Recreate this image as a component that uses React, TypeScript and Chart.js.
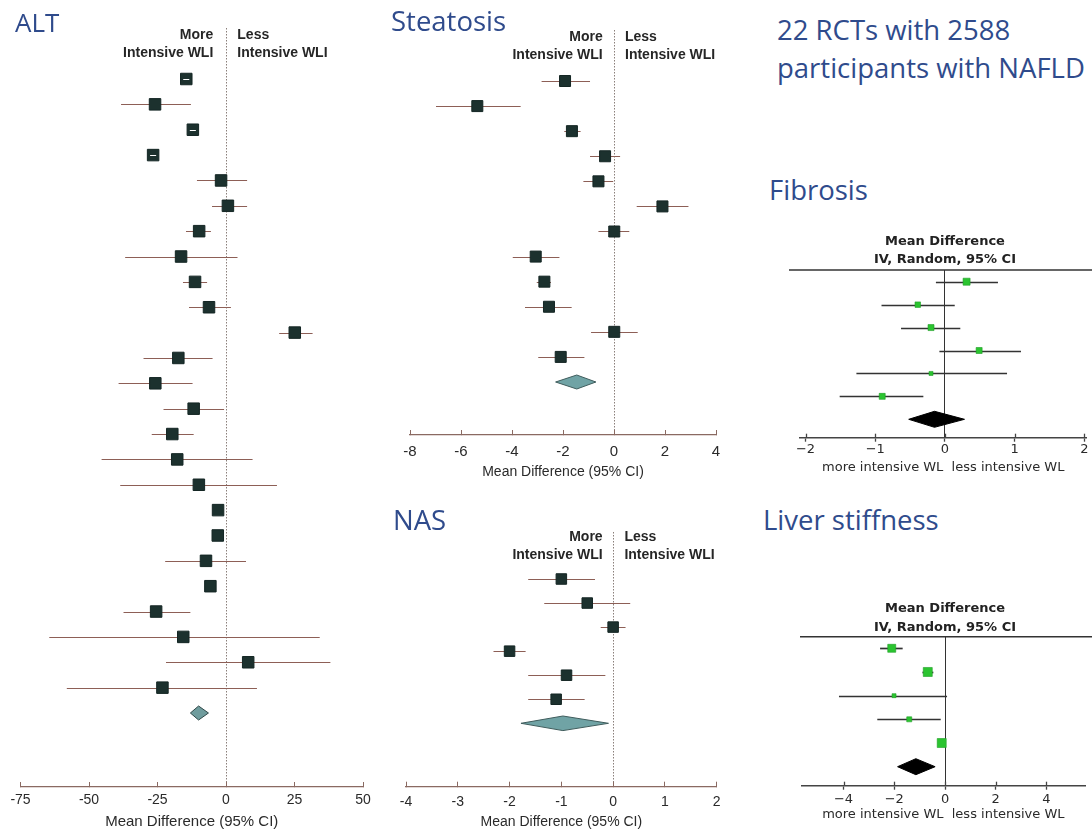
import React, { useEffect, useRef } from "react";
import { Chart, registerables } from "chart.js";

Chart.register(...registerables);

// ---------------- DATA ----------------
// ALT (mean difference, 95% CI)
const altMean = [-14.5, -25.9, -12.1, -26.6, -1.8, 0.7, -9.8, -16.4, -11.3, -6.2, 25.1, -17.4, -25.8, -11.8, -19.6, -17.8, -9.9, -2.9, -3.0, -7.3, -5.7, -25.5, -15.6, 8.1, -23.2];
const altLow = [-15.6, -38.3, -13.2, -27.7, -10.6, -5.1, -14.6, -36.8, -15.7, -13.5, 19.4, -30.1, -39.2, -22.8, -27.1, -45.4, -38.6, -3.2, -3.3, -22.2, -6.0, -37.4, -64.5, -21.9, -58.1];
const altHigh = [-13.4, -12.8, -11.0, -25.5, 7.7, 7.7, -5.5, 4.2, -6.9, 1.8, 31.6, -4.9, -12.2, -0.7, -11.8, 9.7, 18.6, -2.6, -2.7, 7.3, -5.4, -13.0, 34.2, 38.1, 11.3];
const altPooled = [-10.0, -13.0, -6.4];
const altTicks = [-75, -50, -25, 0, 25, 50];

// Steatosis
const steMean = [-1.92, -5.36, -1.65, -0.35, -0.61, 1.9, 0.01, -3.07, -2.73, -2.55, 0.01, -2.09];
const steLow = [-2.84, -6.98, -1.95, -0.94, -1.2, 0.89, -0.61, -3.97, -3.03, -3.49, -0.9, -2.97];
const steHigh = [-0.94, -3.66, -1.31, 0.24, -0.03, 2.92, 0.6, -2.14, -2.47, -1.66, 0.93, -1.16];
const stePooled = [-1.46, -2.29, -0.71];
const steTicks = [-8, -6, -4, -2, 0, 2, 4];

// NAS
const nasMean = [-1.0, -0.5, 0.0, -2.0, -0.9, -1.1];
const nasLow = [-1.64, -1.33, -0.24, -2.31, -1.64, -1.64];
const nasHigh = [-0.35, 0.33, 0.24, -1.69, -0.15, -0.55];
const nasPooled = [-0.97, -1.78, -0.09];
const nasTicks = [-4, -3, -2, -1, 0, 1, 2];

// Fibrosis
const fibMean = [0.31, -0.39, -0.2, 0.49, -0.2, -0.9];
const fibLow = [-0.13, -0.91, -0.63, -0.08, -1.27, -1.51];
const fibHigh = [0.76, 0.14, 0.22, 1.09, 0.89, -0.31];
const fibPooled = [-0.15, -0.52, 0.28];
const fibTicks = [-2, -1, 0, 1, 2];

// Liver stiffness
const lsMean = [-2.1, -0.68, -2.01, -1.41, -0.13];
const lsLow = [-2.56, -0.89, -4.18, -2.67, -0.2];
const lsHigh = [-1.67, -0.46, 0.08, -0.17, -0.06];
const lsPooled = [-1.15, -1.87, -0.39];
const lsTicks = [-4, -2, 0, 2, 4];

// ---------------- STYLE / LAYOUT ----------------
const JAMA_FONT = '"Liberation Sans", Arial, sans-serif';
const NARROW_FONT = '"Liberation Sans Narrow", "Liberation Sans", Arial, sans-serif';
const REVMAN_FONT = '"DejaVu Sans", Verdana, sans-serif';
const TITLE_FONT = '"Open Sans", sans-serif';
const TITLE_COLOR = "#2f4b8c";

type Panel = {
  key: string;
  mean: number[];
  low: number[];
  high: number[];
  pooled: number[];
  ticks: number[];
  xMin: number;
  xMax: number;
  left: number;
  top: number;
  width: number;
  height: number;
  pad: { left: number; right: number; top: number; bottom: number };
  axisH: number;
  firstRowPx: number;
  diamondPx: number;
  style: "jama" | "revman";
  markerSides: number[];
  diamondHalfH: number;
  diamondFill: string;
  diamondStroke: string;
  tickFontSize: number;
  tickPadding: number;
  titleText: string;
  titleFontSize: number;
  titlePadBottom: number;
  labelY?: [number, number];
  labelOffL?: number;
  labelOffR?: number;
  headerY?: [number, number];
  headerLineExt?: number;
};

const fill = (n: number, v: number) => Array.from({ length: n }, () => v);

const panels: Panel[] = [
  {
    key: "alt",
    mean: altMean, low: altLow, high: altHigh, pooled: altPooled, ticks: altTicks,
    xMin: -75, xMax: 50,
    left: 0, top: 0, width: 383, height: 832,
    pad: { left: 20.5, right: 20, top: 28, bottom: 0 },
    axisH: 45,
    firstRowPx: 79, diamondPx: 713,
    style: "jama",
    markerSides: fill(25, 11.5),
    diamondHalfH: 7, diamondFill: "#6f9c9d", diamondStroke: "#2f4848",
    tickFontSize: 14, tickPadding: 10,
    titleText: "Mean Difference (95% CI)", titleFontSize: 15, titlePadBottom: 1.3,
    labelY: [35, 53.3], labelOffL: 12.7, labelOffR: 11.3,
  },
  {
    key: "ste",
    mean: steMean, low: steLow, high: steHigh, pooled: stePooled, ticks: steTicks,
    xMin: -8, xMax: 4,
    left: 380, top: 0, width: 360, height: 482,
    pad: { left: 30, right: 24, top: 30, bottom: 0 },
    axisH: 47,
    firstRowPx: 81, diamondPx: 382,
    style: "jama",
    markerSides: fill(12, 11),
    diamondHalfH: 7, diamondFill: "#70a3a5", diamondStroke: "#3f5c5c",
    tickFontSize: 15, tickPadding: 13,
    titleText: "Mean Difference (95% CI)", titleFontSize: 14, titlePadBottom: 1.9,
    labelY: [36.7, 55], labelOffL: 11.3, labelOffR: 11,
  },
  {
    key: "nas",
    mean: nasMean, low: nasLow, high: nasHigh, pooled: nasPooled, ticks: nasTicks,
    xMin: -4, xMax: 2,
    left: 380, top: 500, width: 360, height: 332,
    pad: { left: 26, right: 23.3, top: 32, bottom: 0 },
    axisH: 45.3,
    firstRowPx: 579, diamondPx: 723.3,
    style: "jama",
    markerSides: fill(6, 10.5),
    diamondHalfH: 7.3, diamondFill: "#70a3a5", diamondStroke: "#3f5c5c",
    tickFontSize: 14, tickPadding: 11.6,
    titleText: "Mean Difference (95% CI)", titleFontSize: 14, titlePadBottom: 1.9,
    labelY: [536.7, 555], labelOffL: 10.5, labelOffR: 11.3,
  },
  {
    key: "fib",
    mean: fibMean, low: fibLow, high: fibHigh, pooled: fibPooled, ticks: fibTicks,
    xMin: -2.079, xMax: 2.029,
    left: 789, top: 225, width: 303, height: 253,
    pad: { left: 11, right: 5, top: 45, bottom: 0 },
    axisH: 40.3,
    firstRowPx: 281.7, diamondPx: 419.3,
    style: "revman",
    markerSides: [7, 5.5, 6, 6, 4, 6],
    diamondHalfH: 8, diamondFill: "#000000", diamondStroke: "#000000",
    tickFontSize: 13, tickPadding: 0.5,
    titleText: "more intensive WL  less intensive WL", titleFontSize: 13, titlePadBottom: 2.2,
    headerY: [241.7, 260], headerLineExt: 11,
  },
  {
    key: "ls",
    mean: lsMean, low: lsLow, high: lsHigh, pooled: lsPooled, ticks: lsTicks,
    xMin: -5.65, xMax: 5.52,
    left: 790, top: 590, width: 302, height: 236,
    pad: { left: 11.7, right: 5, top: 46.7, bottom: 0 },
    axisH: 40.3,
    firstRowPx: 648.3, diamondPx: 766.7,
    style: "revman",
    markerSides: [8, 9, 4, 5, 9],
    diamondHalfH: 8, diamondFill: "#000000", diamondStroke: "#000000",
    tickFontSize: 13, tickPadding: 1.8,
    titleText: "more intensive WL  less intensive WL", titleFontSize: 13, titlePadBottom: 3.2,
    headerY: [608.3, 627.3], headerLineExt: 1.7,
  },
];

function ForestPanel({ p }: { p: Panel }) {
  const ref = useRef<HTMLCanvasElement>(null);

  useEffect(() => {
    const canvas = ref.current;
    if (!canvas) return;
    const n = p.mean.length;
    const jama = p.style === "jama";
    const chartTop = p.top + p.pad.top;
    const chartBottom = p.top + p.height - p.pad.bottom - p.axisH;
    const k = (p.diamondPx - p.firstRowPx) / n;
    const yMin = 1 - (p.firstRowPx - chartTop) / k;
    const yMax = yMin + (chartBottom - chartTop) / k;

    const axisColor = jama ? "#8a6a62" : "#444444";
    const ciColor = jama ? "#8d5f56" : "#333333";
    const ciWidth = jama ? 1 : 1.7;
    const zeroColor = jama ? "#8a7f7a" : "#333333";

    const forestPlugin = {
      id: "forest_" + p.key,
      beforeDatasetsDraw(chart: any) {
        const { ctx } = chart;
        const xs = chart.scales.x;
        const ys = chart.scales.y;
        ctx.save();
        ctx.strokeStyle = ciColor;
        ctx.lineWidth = ciWidth;
        for (let i = 0; i < n; i++) {
          const y = Math.round(ys.getPixelForValue(i + 1)) + 0.5;
          const x1 = xs.getPixelForValue(p.low[i]);
          const x2 = xs.getPixelForValue(p.high[i]);
          ctx.beginPath();
          ctx.moveTo(x1, y);
          ctx.lineTo(x2, y);
          ctx.stroke();
        }
        ctx.restore();
      },
      afterDatasetsDraw(chart: any) {
        const { ctx } = chart;
        const xs = chart.scales.x;
        const ys = chart.scales.y;
        ctx.save();
        if (jama) {
          // CI drawn in white when it lies inside the marker
          ctx.strokeStyle = "#ffffff";
          ctx.lineWidth = 1;
          for (let i = 0; i < n; i++) {
            const x1 = xs.getPixelForValue(p.low[i]);
            const x2 = xs.getPixelForValue(p.high[i]);
            const w = x2 - x1;
            if (w < p.markerSides[i] - 2 && w > 3) {
              const y = Math.round(ys.getPixelForValue(i + 1)) + 0.5;
              ctx.beginPath();
              ctx.moveTo(x1, y);
              ctx.lineTo(x2, y);
              ctx.stroke();
            }
          }
        } else {
          // short upper halves of the "+" tick marks
          ctx.strokeStyle = axisColor;
          ctx.lineWidth = 1.3;
          const yb = chart.chartArea.bottom;
          for (const v of p.ticks) {
            const x = Math.round(xs.getPixelForValue(v)) + 0.5;
            ctx.beginPath();
            ctx.moveTo(x, yb);
            ctx.lineTo(x, yb - 4);
            ctx.stroke();
          }
        }
        // pooled diamond
        const [pm, pl, ph] = p.pooled;
        const yd = ys.getPixelForValue(n + 1);
        const xl = xs.getPixelForValue(pl);
        const xm = xs.getPixelForValue(pm);
        const xh = xs.getPixelForValue(ph);
        ctx.beginPath();
        ctx.moveTo(xl, yd);
        ctx.lineTo(xm, yd - p.diamondHalfH);
        ctx.lineTo(xh, yd);
        ctx.lineTo(xm, yd + p.diamondHalfH);
        ctx.closePath();
        ctx.fillStyle = p.diamondFill;
        ctx.fill();
        ctx.strokeStyle = p.diamondStroke;
        ctx.lineWidth = 1;
        ctx.stroke();
        ctx.restore();
      },
      afterDraw(chart: any) {
        const { ctx, chartArea } = chart;
        const xs = chart.scales.x;
        const zero = xs.getPixelForValue(0);
        ctx.save();
        if (jama && p.labelY) {
          ctx.font = `bold 14px ${JAMA_FONT}`;
          ctx.fillStyle = "#262626";
          ctx.textBaseline = "middle";
          const y1 = p.labelY[0] - p.top;
          const y2 = p.labelY[1] - p.top;
          ctx.textAlign = "right";
          ctx.fillText("More", zero - (p.labelOffL || 12), y1);
          ctx.fillText("Intensive WLI", zero - (p.labelOffL || 12), y2);
          ctx.textAlign = "left";
          ctx.fillText("Less", zero + (p.labelOffR || 11), y1);
          ctx.fillText("Intensive WLI", zero + (p.labelOffR || 11), y2);
        }
        if (!jama && p.headerY) {
          ctx.font = `bold 13px ${REVMAN_FONT}`;
          ctx.fillStyle = "#222222";
          ctx.textBaseline = "middle";
          ctx.textAlign = "center";
          ctx.fillText("Mean Difference", zero, p.headerY[0] - p.top);
          ctx.fillText("IV, Random, 95% CI", zero, p.headerY[1] - p.top);
          ctx.strokeStyle = "#333333";
          ctx.lineWidth = 1.5;
          ctx.beginPath();
          ctx.moveTo(chartArea.left - (p.headerLineExt || 0), chartArea.top);
          ctx.lineTo(chart.width, chartArea.top);
          ctx.stroke();
        }
        ctx.restore();
      },
    };

    const chart = new Chart(canvas, {
      type: "scatter",
      data: {
        datasets: [
          {
            data: p.mean.map((m, i) => ({ x: m, y: i + 1 })),
            pointStyle: "rect",
            pointRadius: p.markerSides.map((s) => s / Math.SQRT2),
            pointHoverRadius: p.markerSides.map((s) => s / Math.SQRT2),
            backgroundColor: jama ? "#1c312e" : "#2bc430",
            borderColor: jama ? "#142624" : "#1f9e25",
            borderWidth: jama ? 1 : 0.6,
          },
        ],
      },
      options: {
        responsive: false,
        animation: false,
        devicePixelRatio: 1,
        events: [],
        layout: { padding: p.pad },
        plugins: {
          legend: { display: false },
          tooltip: { enabled: false },
        },
        scales: {
          x: {
            type: "linear",
            bounds: "data",
            min: p.xMin,
            max: p.xMax,
            afterFit: (s: any) => {
              s.height = p.axisH;
            },
            afterBuildTicks: (s: any) => {
              s.ticks = p.ticks.map((v) => ({ value: v }));
            },
            ticks: {
              autoSkip: false,
              maxRotation: 0,
              padding: p.tickPadding,
              color: "#2a2a2a",
              font: { family: jama ? NARROW_FONT : REVMAN_FONT, size: p.tickFontSize },
              callback: (v: any) => (jama ? String(v) : String(v).replace("-", "\u2212")),
            },
            grid: {
              display: true,
              drawOnChartArea: true,
              drawTicks: true,
              tickLength: jama ? -5 : 4,
              tickWidth: jama ? 1 : 1.3,
              tickColor: axisColor,
              lineWidth: 1,
              color: (c: any) => (c.tick && c.tick.value === 0 ? zeroColor : "rgba(0,0,0,0)"),
            },
            border: {
              display: true,
              color: axisColor,
              width: jama ? 1.2 : 1.5,
              dash: jama ? [1.5, 1.5] : [],
            },
            title: {
              display: true,
              text: p.titleText,
              color: "#2a2a2a",
              font: { family: jama ? JAMA_FONT : REVMAN_FONT, size: p.titleFontSize },
              padding: { top: 0, bottom: p.titlePadBottom },
            },
          },
          y: {
            type: "linear",
            display: false,
            bounds: "data",
            reverse: true,
            min: yMin,
            max: yMax,
          },
        },
      },
      plugins: [forestPlugin],
    } as any);

    return () => chart.destroy();
  }, [p]);

  return (
    <canvas
      ref={ref}
      width={p.width}
      height={p.height}
      style={{ position: "absolute", left: p.left, top: p.top, width: p.width, height: p.height }}
    />
  );
}

const titleBase: React.CSSProperties = {
  position: "absolute",
  fontFamily: TITLE_FONT,
  fontSize: 27.5,
  lineHeight: "27.5px",
  color: TITLE_COLOR,
  whiteSpace: "nowrap",
  margin: 0,
};

export default function App() {
  return (
    <div
      style={{
        position: "absolute",
        left: 0,
        top: 0,
        width: 1092,
        height: 832,
        background: "#ffffff",
        overflow: "hidden",
      }}
    >
      {panels.map((p) => (
        <ForestPanel key={p.key} p={p} />
      ))}
      <div style={{ ...titleBase, fontSize: 26, lineHeight: "26px", left: 15, top: 8.6 }}>ALT</div>
      <div style={{ ...titleBase, left: 391, top: 7.3 }}>Steatosis</div>
      <div style={{ ...titleBase, left: 777, top: 15.6 }}>22 RCTs with 2588</div>
      <div style={{ ...titleBase, left: 777, top: 53.9 }}>participants with NAFLD</div>
      <div style={{ ...titleBase, left: 769, top: 176.3 }}>Fibrosis</div>
      <div style={{ ...titleBase, left: 393, top: 505.6 }}>NAS</div>
      <div style={{ ...titleBase, left: 763, top: 506.3 }}>Liver stiffness</div>
    </div>
  );
}
